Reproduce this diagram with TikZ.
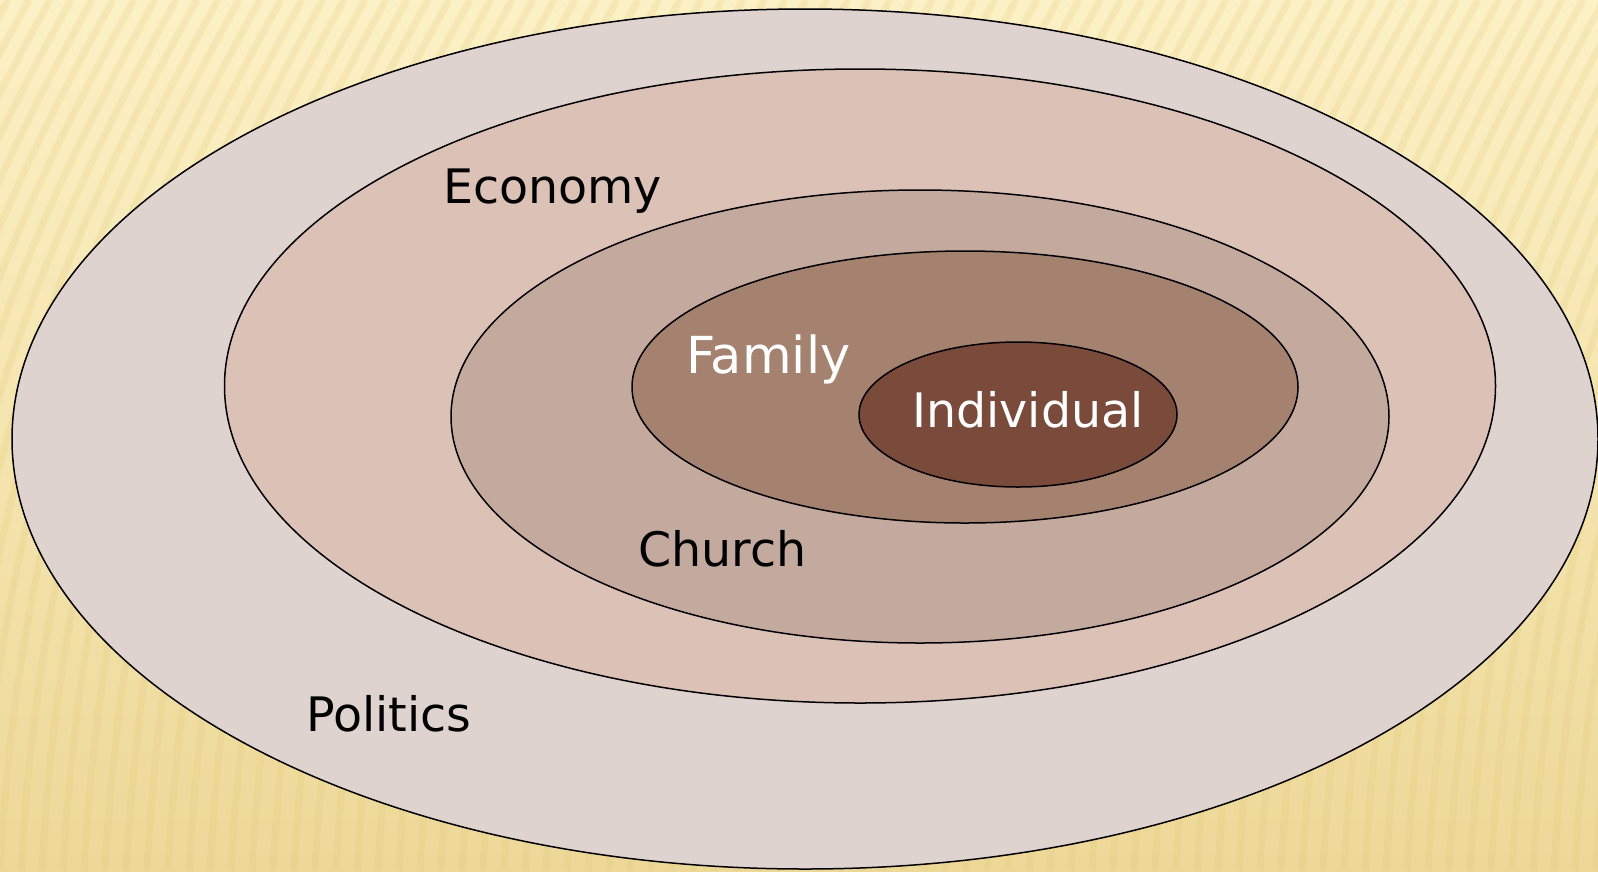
\documentclass[tikz,border=0pt]{standalone}
\usepackage{fontspec}
\setmainfont{DejaVu Sans}
\usetikzlibrary{shapes.geometric}
\definecolor{bgtop}{HTML}{FCF1C6}
\definecolor{bgbot}{HTML}{EDD898}
\definecolor{stripe}{HTML}{E3C97A}
\definecolor{cPol}{HTML}{DFD3CF}
\definecolor{cEco}{HTML}{DCC1B6}
\definecolor{cChu}{HTML}{C4AA9E}
\definecolor{cFam}{HTML}{A4826F}
\definecolor{cInd}{HTML}{7A4A3B}
\tikzset{
  ring/.style={draw=black, line width=1.5pt, ellipse, inner sep=0pt},
  lbl/.style={anchor=base west, inner sep=0pt, font=\fontsize{47.5}{57}\selectfont},
}
\begin{document}
\begin{tikzpicture}[x=1pt,y=-1pt]
\useasboundingbox (0,0) rectangle (1598,871);
\shade[top color=bgtop, bottom color=bgbot] (0,0) rectangle (1598,871);
\begin{scope}
\clip (0,0) rectangle (1598,871);
\foreach \i in {-14,...,80} {
  \draw[stripe, opacity=0.22, line width=7pt] (\i*21,871) .. controls (\i*21+20,500) and (\i*21+120,250) .. (\i*21+260,0);
}
\end{scope}
\node[ring, fill=cPol, minimum width=1586pt, minimum height=860pt] (politics) at (805,439) {};
\node[ring, fill=cEco, minimum width=1271pt, minimum height=634pt] (economy) at (860,386) {};
\node[ring, fill=cChu, minimum width=938pt, minimum height=453pt] (church) at (920,416.5) {};
\node[ring, fill=cFam, minimum width=666pt, minimum height=272pt] (family) at (965,387) {};
\node[ring, fill=cInd, minimum width=318pt, minimum height=145pt] (individual) at (1018,414.5) {};
\node[lbl] (tEco) at (443,203) {Economy};
\node[lbl, text=white, font=\fontsize{51}{61}\selectfont] (tFam) at (686,373) {Family};
\node[lbl, text=white] (tInd) at (912,427) {Individual};
\node[lbl] (tChu) at (638,566) {Church};
\node[lbl] (tPol) at (306,731) {Politics};
\end{tikzpicture}
\end{document}
